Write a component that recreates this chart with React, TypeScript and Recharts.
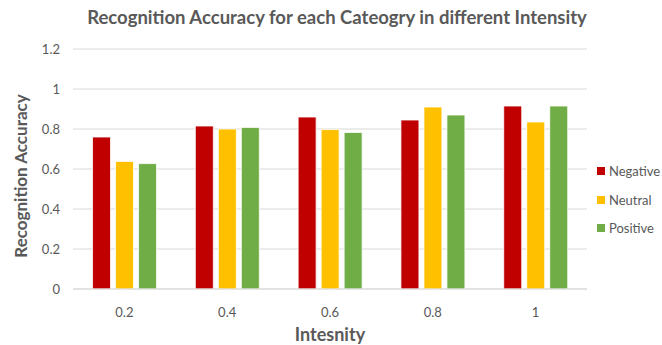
import { BarChart, Bar, XAxis, YAxis, CartesianGrid } from 'recharts'

// intensity levels and accuracy per emotion category
const intensities = ['0.2', '0.4', '0.6', '0.8', '1']
const negative = [0.76, 0.815, 0.86, 0.845, 0.915]
const neutral = [0.638, 0.8, 0.797, 0.91, 0.835]
const positive = [0.627, 0.808, 0.783, 0.87, 0.915]
const yTicks = [0, 0.2, 0.4, 0.6, 0.8, 1, 1.2]

const series = [
  { key: 'negative', name: 'Negative', color: '#C00000' },
  { key: 'neutral', name: 'Neutral', color: '#FFC000' },
  { key: 'positive', name: 'Positive', color: '#70AD47' },
]

const data = intensities.map((x, i) => ({
  intensity: x,
  negative: negative[i],
  neutral: neutral[i],
  positive: positive[i],
}))

const FONT = 'Lato, "Open Sans", sans-serif'
const TEXT = '#595959'

export default function App() {
  return (
    <div style={{ position: 'absolute', left: 0, top: 0, width: 662, height: 345, background: '#fff', fontFamily: FONT }}>
      <div
        style={{
          position: 'absolute', top: 6, left: 6, width: 662, textAlign: 'center',
          fontSize: 18.5, lineHeight: '22px', fontWeight: 700, color: TEXT, whiteSpace: 'nowrap',
        }}
      >
        Recognition Accuracy for each Cateogry in different Intensity
      </div>
      <BarChart
        width={662}
        height={345}
        data={data}
        margin={{ top: 49, right: 75, bottom: 26, left: 0 }}
        barCategoryGap="19%"
        barGap={5}
      >
        <CartesianGrid vertical={false} stroke="#d9d9d9" strokeWidth={1} />
        <XAxis
          dataKey="intensity"
          height={30}
          axisLine={{ stroke: '#d9d9d9' }}
          tickLine={false}
          tickMargin={13}
          tick={{ fill: TEXT, fontSize: 13, fontFamily: FONT }}
        />
        <YAxis
          width={73}
          domain={[0, 1.2]}
          ticks={yTicks}
          axisLine={false}
          tickLine={false}
          tickSize={0}
          tickMargin={13}
          tick={{ fill: TEXT, fontSize: 13, fontFamily: FONT }}
        />
        {series.map(s => (
          <Bar key={s.key} dataKey={s.key} name={s.name} fill={s.color} stroke="#fff" strokeWidth={0.8} isAnimationActive={false} />
        ))}
      </BarChart>
      {/* axis titles */}
      <div
        style={{
          position: 'absolute', left: 21, top: 176, width: 240, marginLeft: -120, marginTop: -11,
          lineHeight: '22px', textAlign: 'center', transform: 'rotate(-90deg)',
          fontSize: 17, fontWeight: 700, color: TEXT, whiteSpace: 'nowrap',
        }}
      >
        Recognition Accuracy
      </div>
      <div
        style={{
          position: 'absolute', left: 230, top: 324, width: 200, lineHeight: '20px', textAlign: 'center',
          fontSize: 18, fontWeight: 700, color: TEXT,
        }}
      >
        Intesnity
      </div>
      <div style={{ position: 'absolute', left: 597, top: 157 }}>
        {series.map(s => (
          <div key={s.key} style={{ display: 'flex', alignItems: 'center', height: 28.5, fontSize: 13, color: TEXT }}>
            <span style={{ display: 'inline-block', width: 8, height: 8, background: s.color, marginRight: 4 }} />
            {s.name}
          </div>
        ))}
      </div>
    </div>
  )
}
